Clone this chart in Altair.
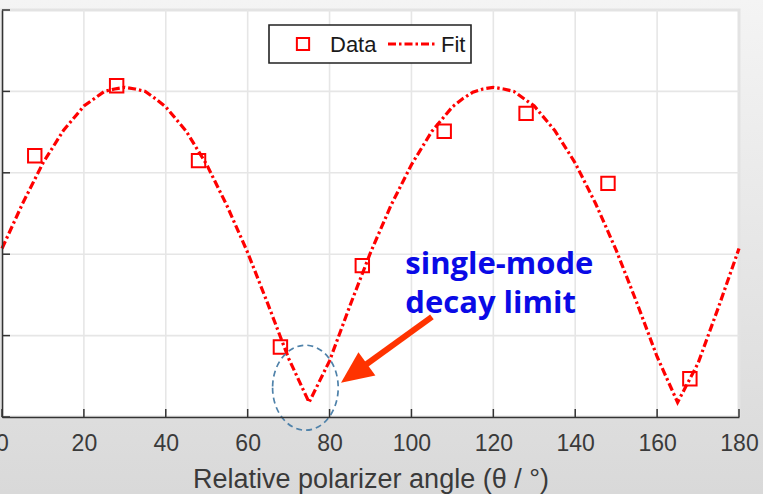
import altair as alt
import pandas as pd

# ---- data ----
angle_data = [8, 28, 48, 68, 88, 108, 128, 148, 168]
signal_data = [3.21, 4.07, 3.15, 0.86, 1.86, 3.51, 3.73, 2.87, 0.47]

fit_angle = [0, 5, 10, 15, 20, 22.5, 25, 27.5, 30, 32.5, 35, 37.5, 40, 45, 50, 55, 60, 65,
             70, 75, 80, 85, 90, 95, 100, 105, 110, 112.5, 115, 117.5, 120, 122.5, 125,
             127.5, 130, 135, 140, 145, 150, 155, 160, 165, 170, 175, 180]
fit_signal = [2.07, 2.62, 3.12, 3.52, 3.82, 3.91, 4.00, 4.03, 4.05, 4.03, 4.00, 3.91, 3.81,
              3.51, 3.10, 2.59, 2.02, 1.38, 0.72, 0.18, 0.69, 1.37, 2.02, 2.60, 3.10, 3.51,
              3.81, 3.91, 3.99, 4.03, 4.05, 4.03, 4.00, 3.91, 3.82, 3.52, 3.12, 2.62, 2.05,
              1.41, 0.74, 0.18, 0.66, 1.35, 2.07]

x_ticks = [0, 20, 40, 60, 80, 100, 120, 140, 160, 180]
y_ticks = [0, 1, 2, 3, 4, 5]

annotation_lines = ["single-mode", "decay limit"]
legend_labels = ["Data", "Fit"]
x_title = "Relative polarizer angle (θ / °)"

# annotation anchors (data units)
arrow_start = (105.0, 1.23)
arrow_head = (85.96, 0.537)
ellipse_center = (74.1, 0.36)
text_anchor = (98.5, 1.757)

W, H = 737, 407

xscale = alt.Scale(domain=[0, 180], nice=False, zero=False)
yscale = alt.Scale(domain=[0, 5], nice=False, zero=False)
xaxis = alt.Axis(values=x_ticks, title=x_title, labelFontSize=23, titleFontSize=27,
                 labelFont="Liberation Sans", titleFont="Liberation Sans",
                 labelColor="#3a3a3a", titleColor="#3a3a3a", titleFontWeight="normal",
                 ticks=False, tickSize=0, grid=False, domainColor="#333333",
                 domainWidth=1.5, labelPadding=15, titlePadding=11, labelFlush=False,
                 labelAngle=0, zindex=1)
yaxis = alt.Axis(labels=False, ticks=False, tickSize=0, grid=False, title="",
                 domainColor="#333333", domainWidth=1.5, zindex=1)


def X(f):
    return alt.X(f + ":Q", scale=xscale, axis=xaxis)


def Y(f):
    return alt.Y(f + ":Q", scale=yscale, axis=yaxis)


one = pd.DataFrame({"a": [0]})
pts_df = pd.DataFrame({"angle": angle_data, "signal": signal_data})
fit_df = pd.DataFrame({"angle": fit_angle, "fit": fit_signal})
gx_df = pd.DataFrame({"gx": x_ticks[1:-1]})
gy_df = pd.DataFrame({"gy": y_ticks[1:-1]})
tx_df = pd.DataFrame({"tx": x_ticks})
ty_df = pd.DataFrame({"ty": y_ticks})
arrow_df = pd.DataFrame({"x1": [arrow_start[0]], "y1": [arrow_start[1]],
                         "x2": [arrow_head[0]], "y2": [arrow_head[1]]})
head_df = pd.DataFrame({"hx": [arrow_head[0]], "hy": [arrow_head[1]]})
ell_df = pd.DataFrame({"ex": [ellipse_center[0]], "ey": [ellipse_center[1]]})
txt_df = pd.DataFrame({"tx": [text_anchor[0]], "ty": [text_anchor[1]],
                       "label": [annotation_lines]})

bg = alt.Chart(one).mark_rect(
    fill=alt.Gradient(gradient="linear", x1=0, x2=0, y1=0, y2=1,
                      stops=[alt.GradientStop(color="#f4f4f4", offset=0),
                             alt.GradientStop(color="#d9d9d9", offset=1)])
).encode(x=alt.value(-2), x2=alt.value(761), y=alt.value(-10), y2=alt.value(484))

frame = alt.Chart(one).mark_rect(fill="white", stroke="#e3e3e3", strokeWidth=3).encode(
    x=alt.value(0), x2=alt.value(W), y=alt.value(0), y2=alt.value(H))

grid_v = alt.Chart(gx_df).mark_rule(color="#e6e6e6", strokeWidth=1.6).encode(
    x=X("gx"), y=alt.value(0), y2=alt.value(H))
grid_h = alt.Chart(gy_df).mark_rule(color="#e6e6e6", strokeWidth=1.6).encode(
    y=Y("gy"), x=alt.value(0), x2=alt.value(W))

ticks_x = alt.Chart(tx_df).mark_rule(color="#333333", strokeWidth=1.5).encode(
    x=X("tx"), y=alt.value(H), y2=alt.value(H - 8))
ticks_y = alt.Chart(ty_df).mark_rule(color="#333333", strokeWidth=1.5).encode(
    y=Y("ty"), x=alt.value(0), x2=alt.value(8))

fit = alt.Chart(fit_df).mark_line(color="#ff0000", strokeWidth=3.2,
                                  strokeDash=[8, 3, 2.5, 3]).encode(
    x=X("angle"), y=Y("fit"))

pts = alt.Chart(pts_df).mark_point(shape="square", size=180, filled=False,
                                   color="#ff0000", strokeWidth=2, opacity=1).encode(
    x=X("angle"), y=Y("signal"))

ellipse_path = "M -0.772 0 A 0.772 1 0 1 0 0.772 0 A 0.772 1 0 1 0 -0.772 0 Z"
ellipse = alt.Chart(ell_df).mark_point(shape=ellipse_path, size=7225, filled=False,
                                       stroke="#4f82aa", strokeWidth=1.7,
                                       strokeDash=[6, 4], opacity=1).encode(
    x=X("ex"), y=Y("ey"))

shaft = alt.Chart(arrow_df).mark_rule(color="#ff3300", strokeWidth=6).encode(
    x=X("x1"), y=Y("y1"), x2="x2:Q", y2="y2:Q")
head = alt.Chart(head_df).mark_point(shape="M 0 -1 L -0.9 1 L 0.9 1 Z", size=1024,
                                     filled=True, color="#ff3300", opacity=1,
                                     angle=234).encode(x=X("hx"), y=Y("hy"))

note = alt.Chart(txt_df).mark_text(align="left", baseline="alphabetic", font="Open Sans",
                                   fontWeight="bold", fontSize=31, lineHeight=39,
                                   color="#0a0ae6").encode(
    x=X("tx"), y=Y("ty"), text="label")

leg_box = alt.Chart(one).mark_rect(fill="white", stroke="#222222", strokeWidth=1.6).encode(
    x=alt.value(267), x2=alt.value(469), y=alt.value(15), y2=alt.value(53))
leg_sq = alt.Chart(one).mark_point(shape="square", size=150, filled=False, color="#ff0000",
                                   strokeWidth=2, opacity=1).encode(
    x=alt.value(301), y=alt.value(34))
leg_t1 = alt.Chart(one).mark_text(align="left", baseline="middle", font="Liberation Sans",
                                  fontSize=22, color="#1a1a1a").encode(
    x=alt.value(328), y=alt.value(35), text=alt.value(legend_labels[0]))
leg_line = alt.Chart(one).mark_rule(color="#ff0000", strokeWidth=3.2,
                                    strokeDash=[8, 3, 2.5, 3]).encode(
    x=alt.value(386), x2=alt.value(433), y=alt.value(34))
leg_t2 = alt.Chart(one).mark_text(align="left", baseline="middle", font="Liberation Sans",
                                  fontSize=22, color="#1a1a1a").encode(
    x=alt.value(439), y=alt.value(35), text=alt.value(legend_labels[1]))

chart = alt.layer(
    bg, frame, grid_v, grid_h, ticks_x, ticks_y, fit, pts, ellipse, shaft, head, note,
    leg_box, leg_sq, leg_t1, leg_line, leg_t2
).properties(
    width=W, height=H,
    padding={"left": 2, "top": 10, "right": 24, "bottom": 77},
    autosize=alt.AutoSizeParams(type="none"),
).configure_view(stroke="transparent")

chart.save("out.html", embed_options={"renderer": "svg", "actions": False})
